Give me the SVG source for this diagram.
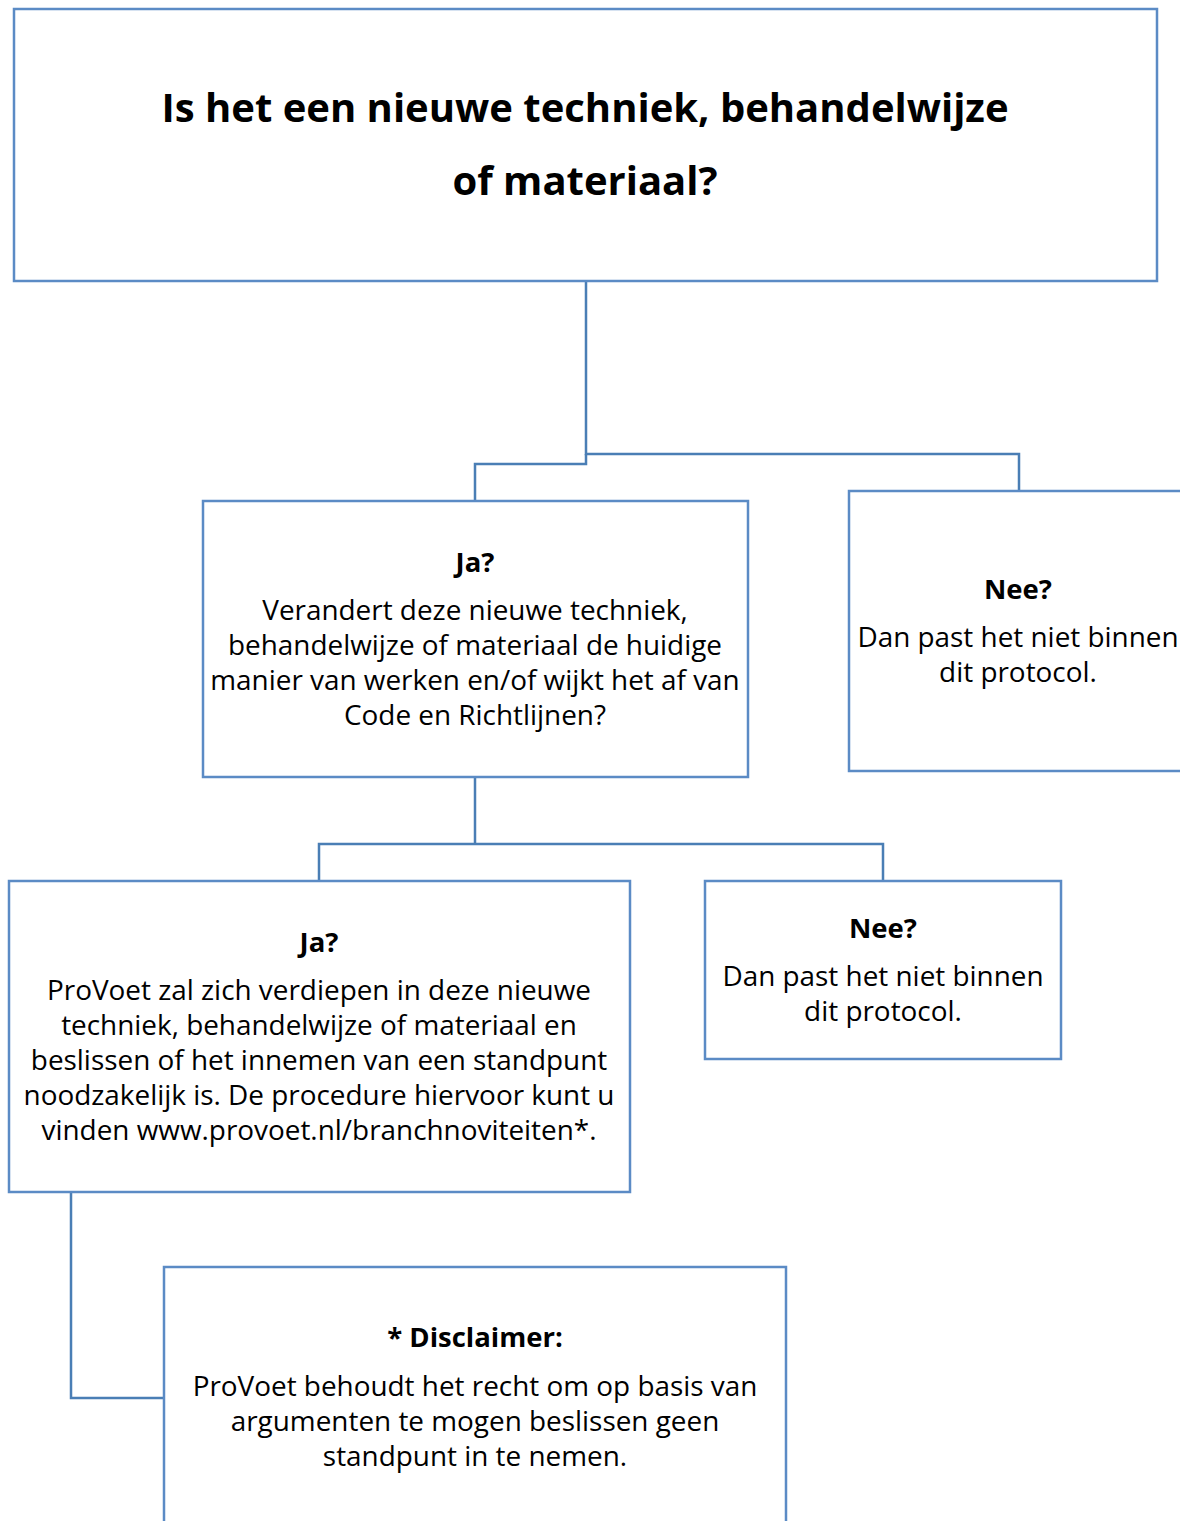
<svg xmlns="http://www.w3.org/2000/svg" width="1180" height="1521" viewBox="0 0 1180 1521">
<style>
.box{fill:#ffffff;stroke:#5b8bc5;stroke-width:2.5}
.conn{fill:none;stroke:#4a7eb5;stroke-width:2.5}
text{font-family:"Open Sans","Liberation Sans",sans-serif;fill:#000;text-anchor:middle}
.title{font-size:40px;font-weight:bold}
.head{font-size:27.5px;font-weight:bold}
.body{font-size:27.9px}
</style>
<rect width="1180" height="1521" fill="#ffffff"/>
<g id="connectors">
<polyline class="conn" points="586,281 586,454 1019,454 1019,491"/>
<polyline class="conn" points="586,454 586,464 475,464 475,501"/>
<polyline class="conn" points="475,777 475,844"/>
<polyline class="conn" points="319,881 319,844 883,844 883,881"/>
<polyline class="conn" points="71,1192 71,1398 164,1398"/>
</g>
<g id="node-question">
<rect class="box" x="14" y="9" width="1143" height="272"/>
<text class="title" x="585" y="122">Is het een nieuwe techniek, behandelwijze</text>
<text class="title" x="585" y="195">of materiaal?</text>
</g>
<g id="node-ja1">
<rect class="box" x="203" y="501" width="545" height="276"/>
<text class="head" x="475" y="572">Ja?</text>
<text class="body" x="475" y="620">Verandert deze nieuwe techniek,</text>
<text class="body" x="475" y="655">behandelwijze of materiaal de huidige</text>
<text class="body" x="475" y="690">manier van werken en/of wijkt het af van</text>
<text class="body" x="475" y="725">Code en Richtlijnen?</text>
</g>
<g id="node-nee1">
<rect class="box" x="849" y="491" width="345" height="280"/>
<text class="head" x="1018" y="599">Nee?</text>
<text class="body" x="1018" y="647">Dan past het niet binnen</text>
<text class="body" x="1018" y="682">dit protocol.</text>
</g>
<g id="node-ja2">
<rect class="box" x="9" y="881" width="621" height="311"/>
<text class="head" x="319" y="952">Ja?</text>
<text class="body" x="319" y="1000">ProVoet zal zich verdiepen in deze nieuwe</text>
<text class="body" x="319" y="1035">techniek, behandelwijze of materiaal en</text>
<text class="body" x="319" y="1070">beslissen of het innemen van een standpunt</text>
<text class="body" x="319" y="1105">noodzakelijk is. De procedure hiervoor kunt u</text>
<text class="body" x="319" y="1140">vinden www.provoet.nl/branchnoviteiten*.</text>
</g>
<g id="node-nee2">
<rect class="box" x="705" y="881" width="356" height="178"/>
<text class="head" x="883" y="938">Nee?</text>
<text class="body" x="883" y="986">Dan past het niet binnen</text>
<text class="body" x="883" y="1021">dit protocol.</text>
</g>
<g id="node-disclaimer">
<rect class="box" x="164" y="1267" width="622" height="280"/>
<text class="head" x="475" y="1347">* Disclaimer:</text>
<text class="body" x="475" y="1396">ProVoet behoudt het recht om op basis van</text>
<text class="body" x="475" y="1431">argumenten te mogen beslissen geen</text>
<text class="body" x="475" y="1466">standpunt in te nemen.</text>
</g>
</svg>
